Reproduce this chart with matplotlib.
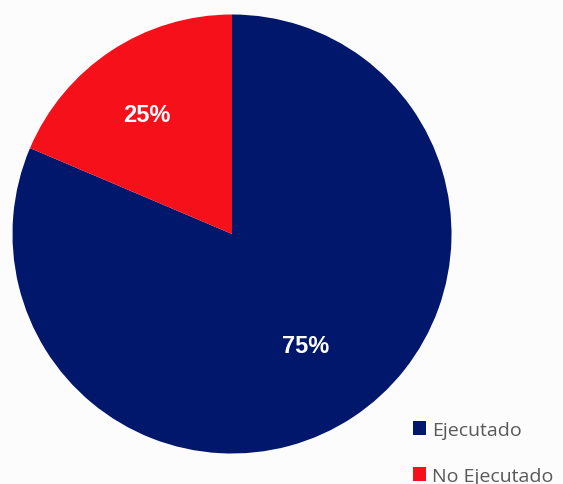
import matplotlib.pyplot as plt
import numpy as np

categories = ["Ejecutado", "No Ejecutado"]
shares = [81.4, 18.6]
pct_labels = ["75%", "25%"]
colors = ["#00176B", "#F5101A"]

W, H = 563, 485
fig = plt.figure(figsize=(W / 100, H / 100), dpi=100)
fig.patch.set_facecolor("#fcfcfc")

# pie centre ~ (232, 234) px, radius ~219.5 px
cx, cy, r = 232, 235, 219.5
ax = fig.add_axes([(cx - r) / W, (H - cy - r) / H, 2 * r / W, 2 * r / H])

wedges, _ = ax.pie(
    shares,
    colors=colors,
    startangle=90,
    counterclock=False,
    radius=1,
    wedgeprops=dict(linewidth=0),
)
ax.set_xlim(-1, 1)
ax.set_ylim(-1, 1)
ax.axis("off")

label_r = [0.61, 0.67]
label_shift = [0, 2]  # degrees
for w, txt, lr, sh in zip(wedges, pct_labels, label_r, label_shift):
    mid = np.deg2rad((w.theta1 + w.theta2) / 2 + sh)
    ax.text(
        lr * np.cos(mid),
        lr * np.sin(mid),
        txt,
        ha="center",
        va="center",
        color="white",
        fontsize=17,
        fontweight="bold",
        family="Liberation Sans",
    )

handles = [
    plt.Rectangle((0, 0), 1, 1, facecolor=c, edgecolor="none") for c in colors
]
fig.legend(
    handles,
    categories,
    loc="upper left",
    bbox_to_anchor=(405 / W, 1 - 414 / H),
    frameon=False,
    handlelength=0.68,
    handleheight=0.68,
    handletextpad=0.3,
    labelspacing=1.45,
    borderaxespad=0,
    prop={"family": "Open Sans", "size": 14},
    labelcolor="#595959",
)

fig.savefig("out.png", dpi=100, facecolor=fig.get_facecolor())
